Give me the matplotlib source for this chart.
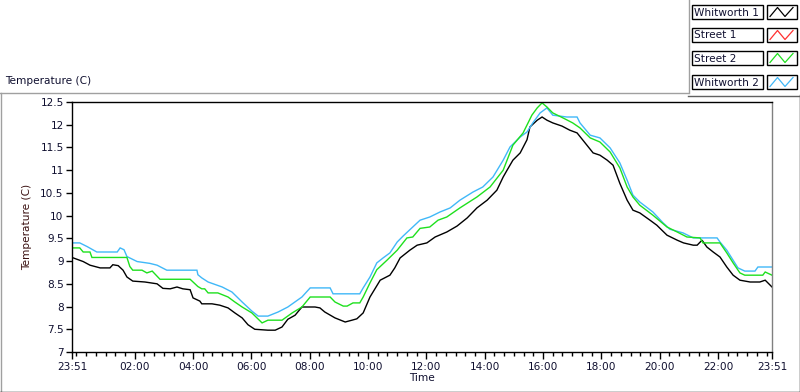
import matplotlib
matplotlib.use("Agg")
import matplotlib.pyplot as plt
from matplotlib.lines import Line2D
from matplotlib.patches import Rectangle
import numpy as np

# ---------------- data (minutes elapsed since 23:51) ----------------
series_names = ["Whitworth 1", "Street 1", "Street 2", "Whitworth 2"]
series_colors = ["#000000", "#ff3030", "#1ee01e", "#40b8f8"]

whitworth1_min = [0, 23, 37, 58, 78, 84, 95, 105, 113, 125, 150, 175, 187, 202, 216,
                  228, 243, 249, 263, 267, 288, 304, 321, 335, 350, 362, 376, 403, 418, 432,
                  444, 459, 473, 500, 510, 520, 541, 562, 576, 586, 599, 613, 634, 654, 664,
                  675, 695, 710, 730, 747, 771, 792, 813, 833, 854, 874, 887, 895, 907, 922,
                  936, 942, 957, 967, 977, 989, 1008, 1024, 1039, 1051, 1072, 1086, 1101, 1113, 1127,
                  1142, 1154, 1168, 1189, 1203, 1224, 1245, 1258, 1278, 1286, 1296, 1306, 1319, 1333, 1347,
                  1360, 1374, 1395, 1415, 1426, 1440]
whitworth1_val = [9.08, 8.99, 8.91, 8.85, 8.85, 8.92, 8.90, 8.80, 8.65, 8.56, 8.54, 8.50, 8.40, 8.39, 8.43,
                  8.39, 8.37, 8.19, 8.12, 8.06, 8.06, 8.03, 7.97, 7.86, 7.75, 7.60, 7.50, 7.48, 7.48, 7.55,
                  7.72, 7.81, 7.99, 7.99, 7.97, 7.88, 7.75, 7.66, 7.70, 7.73, 7.86, 8.21, 8.58, 8.69, 8.85,
                  9.07, 9.24, 9.35, 9.40, 9.53, 9.64, 9.77, 9.95, 10.17, 10.34, 10.56, 10.85, 11.00, 11.22, 11.38,
                  11.67, 11.95, 12.10, 12.17, 12.10, 12.04, 11.97, 11.88, 11.82, 11.66, 11.38, 11.33, 11.22, 11.11, 10.71,
                  10.34, 10.12, 10.06, 9.90, 9.79, 9.57, 9.46, 9.40, 9.35, 9.35, 9.46, 9.31, 9.20, 9.09, 8.87,
                  8.69, 8.58, 8.54, 8.54, 8.58, 8.43]

street1_min = []
street1_val = []

street2_min = [0, 16, 23, 37, 41, 113, 119, 125, 144, 154, 165, 181, 243, 259, 267,
               273, 280, 300, 321, 335, 350, 370, 391, 403, 432, 453, 473, 490, 531, 541,
               558, 566, 578, 592, 599, 613, 627, 648, 669, 689, 701, 716, 736, 753, 771,
               798, 833, 860, 887, 907, 928, 946, 957, 967, 977, 989, 1010, 1030, 1045, 1066,
               1086, 1107, 1127, 1142, 1154, 1168, 1195, 1224, 1245, 1265, 1292, 1298, 1333, 1347, 1360,
               1374, 1384, 1421, 1426, 1440]
street2_val = [9.29, 9.29, 9.20, 9.20, 9.08, 9.08, 8.88, 8.80, 8.80, 8.74, 8.78, 8.60, 8.60, 8.44, 8.39,
               8.39, 8.30, 8.30, 8.21, 8.10, 7.99, 7.86, 7.64, 7.70, 7.70, 7.86, 7.99, 8.21, 8.21, 8.10,
               8.01, 8.01, 8.08, 8.08, 8.21, 8.52, 8.81, 9.02, 9.24, 9.51, 9.53, 9.72, 9.75, 9.90, 9.97,
               10.17, 10.41, 10.63, 11.00, 11.55, 11.82, 12.21, 12.37, 12.48, 12.39, 12.26, 12.15, 12.04, 11.93, 11.71,
               11.62, 11.40, 11.05, 10.63, 10.41, 10.23, 10.01, 9.75, 9.64, 9.53, 9.51, 9.40, 9.40, 9.18, 8.96,
               8.74, 8.69, 8.69, 8.76, 8.69]

whitworth2_min = [0, 16, 31, 51, 93, 99, 107, 113, 134, 160, 175, 195, 257, 259, 267,
                  280, 309, 329, 350, 370, 383, 403, 424, 444, 473, 490, 531, 537, 592, 599,
                  613, 627, 640, 654, 669, 681, 701, 716, 736, 757, 778, 798, 825, 845, 866,
                  887, 901, 922, 936, 948, 963, 977, 989, 1018, 1039, 1045, 1066, 1086, 1107, 1127,
                  1142, 1154, 1168, 1195, 1216, 1230, 1257, 1278, 1327, 1333, 1347, 1360, 1370, 1384, 1405,
                  1411, 1440]
whitworth2_val = [9.40, 9.40, 9.32, 9.20, 9.20, 9.29, 9.25, 9.10, 8.99, 8.95, 8.91, 8.80, 8.80, 8.70, 8.63,
                  8.54, 8.43, 8.32, 8.10, 7.90, 7.79, 7.79, 7.88, 7.99, 8.21, 8.41, 8.41, 8.28, 8.28, 8.41,
                  8.65, 8.96, 9.07, 9.18, 9.42, 9.55, 9.75, 9.90, 9.97, 10.08, 10.17, 10.34, 10.52, 10.63, 10.85,
                  11.22, 11.51, 11.73, 11.84, 12.04, 12.26, 12.37, 12.21, 12.17, 12.17, 12.04, 11.77, 11.71, 11.49, 11.16,
                  10.78, 10.45, 10.30, 10.08, 9.84, 9.70, 9.62, 9.51, 9.51, 9.42, 9.24, 9.02, 8.85, 8.78, 8.78,
                  8.87, 8.87]

x_tick_labels = ["23:51", "02:00", "04:00", "06:00", "08:00", "10:00", "12:00",
                 "14:00", "16:00", "18:00", "20:00", "22:00", "23:51"]
y_ticks = [7, 7.5, 8, 8.5, 9, 9.5, 10, 10.5, 11, 11.5, 12, 12.5]

# ---------------- figure ----------------
W, H = 800, 392
fig = plt.figure(figsize=(W / 100, H / 100), dpi=100)
fig.patch.set_facecolor("white")
plt.rcParams["font.family"] = ["DejaVu Sans"]
FS = 7.6
TXT = "#101030"


def P(x, y):
    return (x / W, 1 - y / H)


ax = fig.add_axes([72 / W, 1 - 352 / H, 700 / W, 250 / H])

all_min = [whitworth1_min, street1_min, street2_min, whitworth2_min]
all_val = [whitworth1_val, street1_val, street2_val, whitworth2_val]
# draw in order so that the coloured lines sit on top as in the reference
for i in [0, 1, 3, 2]:
    ax.plot(all_min[i], all_val[i], color=series_colors[i], lw=1.0,
            solid_joinstyle="miter")

ax.set_xlim(0, 1440)
ax.set_ylim(7, 12.5)

# x ticks: start / end, then every 2 h at even clock hours
start_clock = 23 * 60 + 51
major = [0]
for h in range(2, 24, 2):
    major.append((h * 60 - start_clock) % 1440)
major.append(1440)
ax.set_xticks(major)
ax.set_xticklabels(x_tick_labels)
minor = [m for m in range((0 * 60 - start_clock) % 1440 - 1440 + 1440, 1441, 20)]
minor = [(t * 20 - start_clock) % 1440 for t in range(72)]
ax.set_xticks(sorted(minor), minor=True)

ax.set_yticks(y_ticks)
ax.set_yticklabels([("%g" % v) for v in y_ticks])

ax.tick_params(axis="x", which="major", length=5, width=1, pad=2, labelsize=FS,
               colors="black", labelcolor=TXT)
ax.tick_params(axis="x", which="minor", length=3, width=1, colors="black")
ax.tick_params(axis="y", which="major", length=4, width=1, pad=2, labelsize=FS,
               colors="black", labelcolor=TXT)

for s in ["left", "bottom", "top"]:
    ax.spines[s].set_color("black")
    ax.spines[s].set_linewidth(1.0)
ax.spines["right"].set_color("#808080")
ax.spines["right"].set_linewidth(1.0)

ax.set_xlabel("Time", fontsize=FS, color=TXT, labelpad=1)
ax.set_ylabel("Temperature (C)", fontsize=FS, color="#3a1010", labelpad=6)

# ---------------- outer frame ----------------
def fline(x0, y0, x1, y1, color, lw=1.0):
    fig.add_artist(Line2D([x0 / W, x1 / W], [1 - y0 / H, 1 - y1 / H],
                          color=color, lw=lw, transform=fig.transFigure))

fline(0, 92.5, 688, 92.5, "#a0a0a0")
fline(0.5, 92.5, 0.5, 392, "#a0a0a0")
fline(0, 391.5, 800, 391.5, "#000000")
fline(799.5, 95, 799.5, 392, "#000000")
fline(688.5, 0, 688.5, 93, "#a0a0a0")
fline(688, 95.5, 800, 95.5, "#606060")

fig.text(5 / W, 1 - 81 / H, "Temperature (C)", fontsize=FS, color=TXT,
         ha="left", va="center")

# ---------------- legend (plot legend panel) ----------------
row_tops = [5, 28, 51, 75]
for i, name in enumerate(series_names):
    top = row_tops[i]
    h = 14
    fig.add_artist(Rectangle(P(692, top + h), 71 / W, h / H, transform=fig.transFigure,
                             facecolor="white", edgecolor="black", lw=1.0))
    fig.text(694 / W, 1 - (top + h / 2 + 0.5) / H, name, fontsize=FS, color=TXT,
             ha="left", va="center")
    fig.add_artist(Rectangle(P(767, top + h), 30 / W, h / H, transform=fig.transFigure,
                             facecolor="white", edgecolor="black", lw=1.0))
    zx = [770, 777, 784, 787, 794]
    zy = [top + 12, top + 3, top + 12, top + 12, top + 3]
    zx = [770, 777.5, 785, 793]
    zy = [top + 11.5, top + 2.5, top + 11.5, top + 2.5]
    fig.add_artist(Line2D([x / W for x in zx], [1 - y / H for y in zy],
                          color=series_colors[i], lw=0.9, transform=fig.transFigure))

fig.savefig("out.png", dpi=100, facecolor="white")
